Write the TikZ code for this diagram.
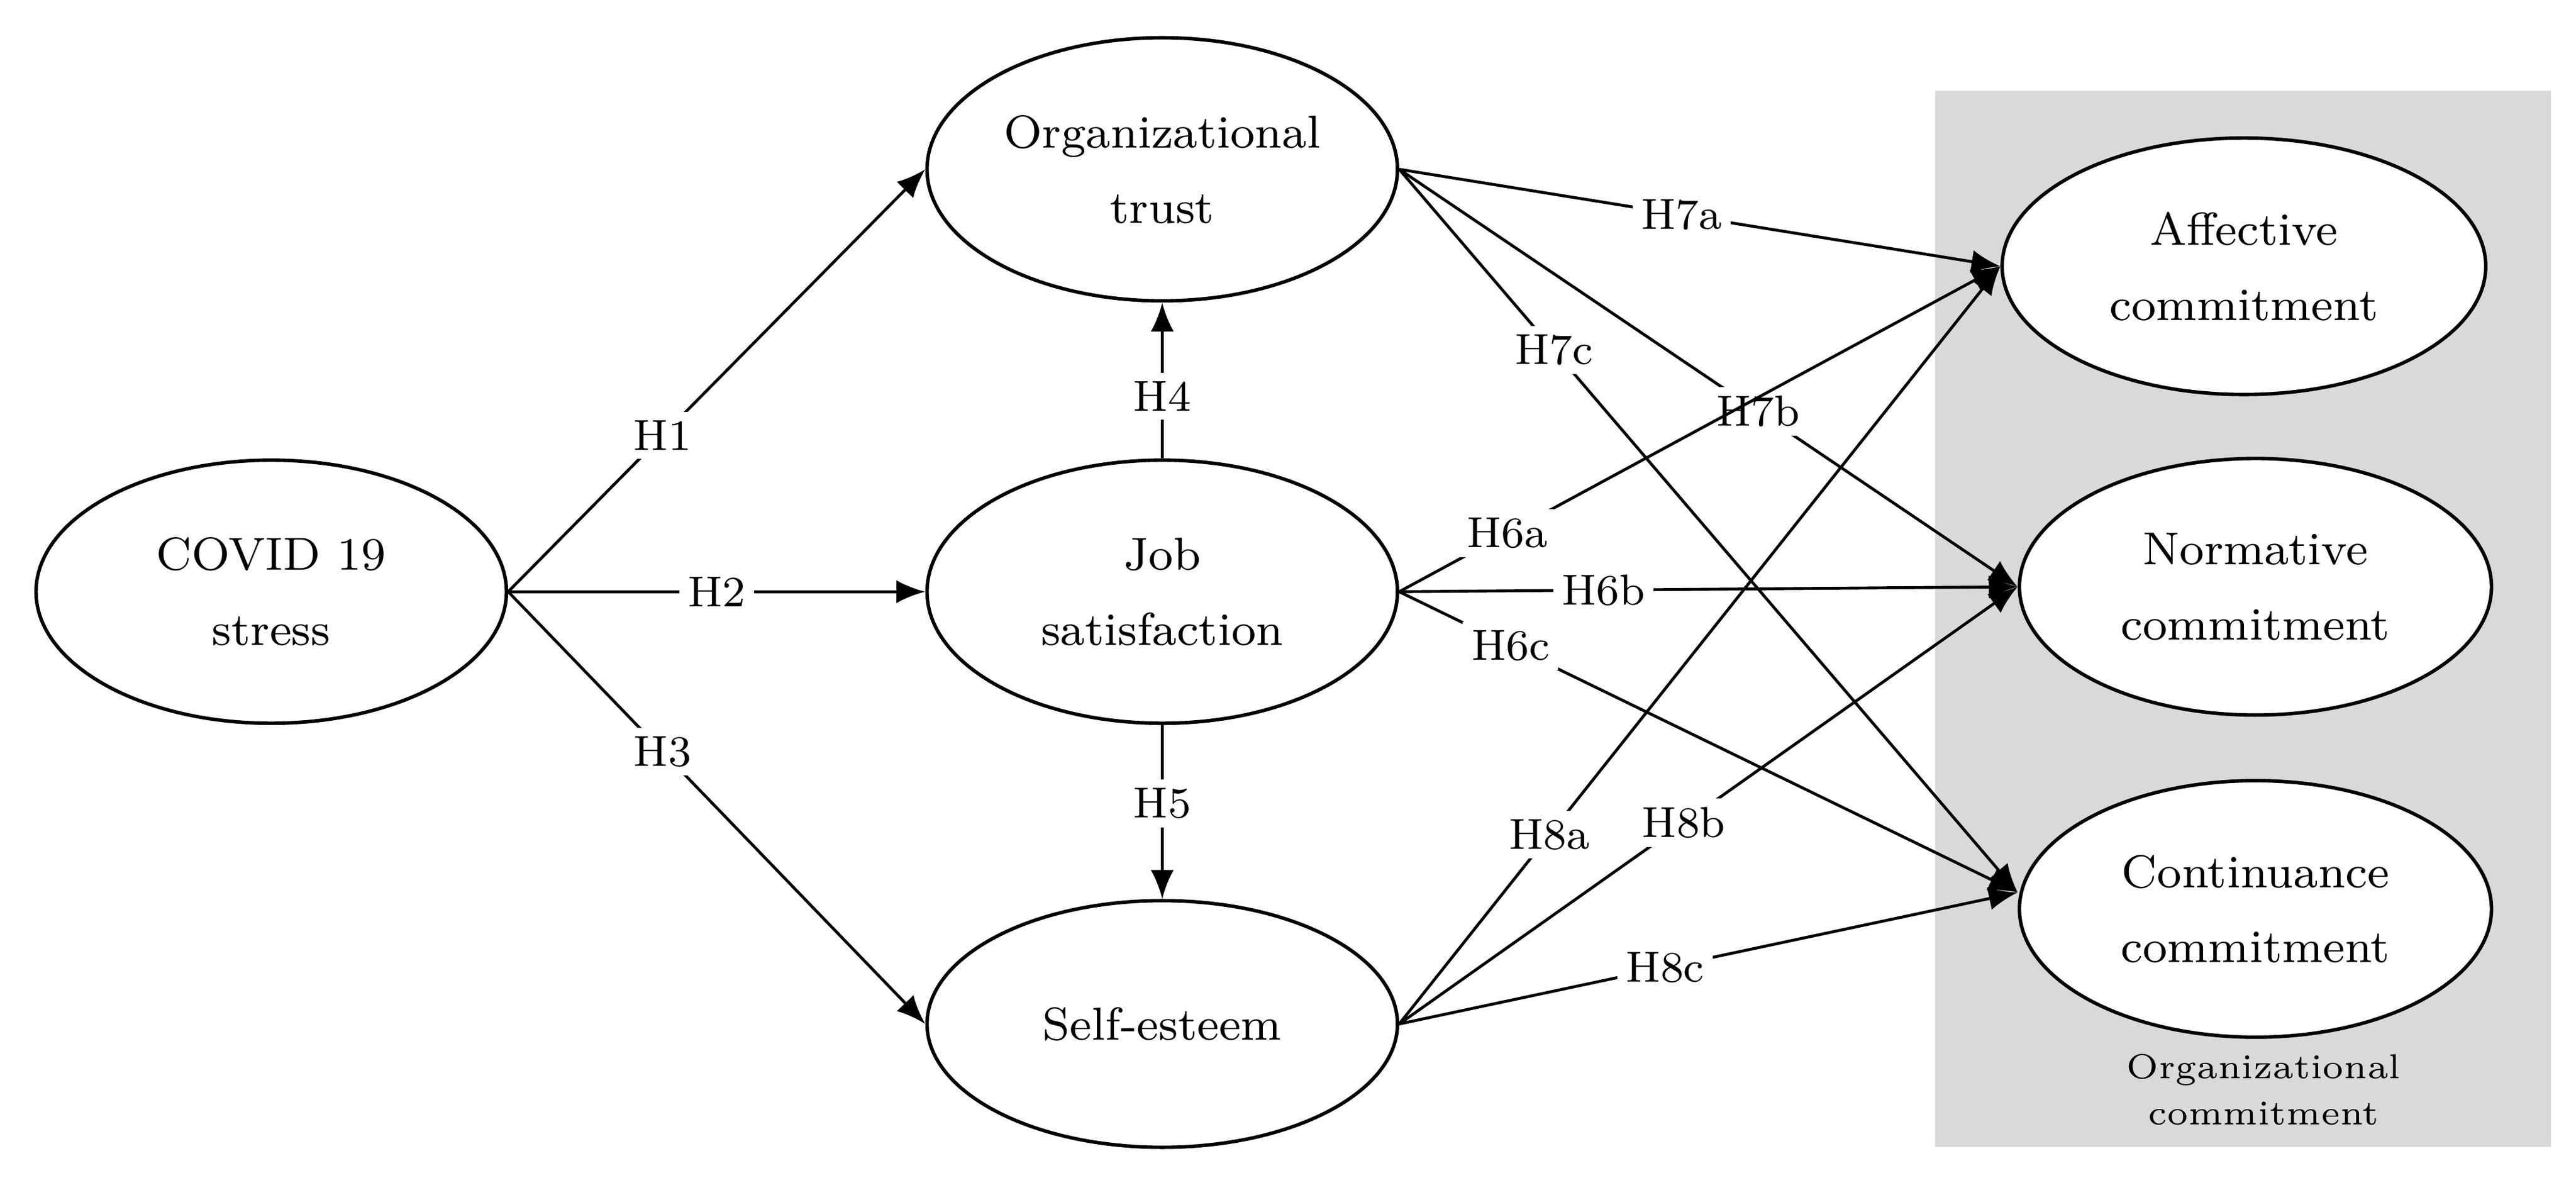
\documentclass[tikz,border=0pt]{standalone}
\usetikzlibrary{arrows.meta,shapes.geometric}
\begin{document}
\begin{tikzpicture}[x=0.01cm,y=-0.01cm,
  el/.style={draw,fill=white,ellipse,inner sep=0pt,minimum width=2.86cm,minimum height=1.6cm,align=center,font=\fontsize{8}{13}\selectfont,line width=0.6pt},
  ar/.style={-{Latex[length=5pt,width=4pt]},line width=0.5pt},
  lb/.style={fill=white,inner sep=1.5pt,font=\fontsize{7.5}{9}\selectfont}]
\useasboundingbox (0,0) rectangle (1567,727);
\fill[gray!30] (1177,55) rectangle (1552,698);
\node[el] (cov) at (165,360) {COVID 19\\stress};
\node[el] (ot) at (707,103) {Organizational\\trust};
\node[el] (js) at (707,360) {Job\\satisfaction};
\node[el,minimum height=1.5cm] (se) at (707,623) {Self-esteem};
\node[el,minimum width=2.94cm,minimum height=1.56cm] (ac) at (1365,162) {Affective\\commitment};
\node[el,minimum width=2.87cm,minimum height=1.56cm] (nc) at (1372,357) {Normative\\commitment};
\node[el,minimum width=2.87cm,minimum height=1.56cm] (cc) at (1372,553) {Continuance\\commitment};
\node[align=center,font=\fontsize{6}{8}\selectfont] (oc) at (1377,663) {Organizational\\commitment};
\coordinate (c) at (cov.east);
\draw[ar] (c) -- node[lb,pos=0.37]{H1} (ot.west);
\draw[ar] (c) -- node[lb,pos=0.5]{H2} (js.west);
\draw[ar] (c) -- node[lb,pos=0.37]{H3} (se.west);
\draw[ar] (js.north) -- node[lb,pos=0.4]{H4} (ot.south);
\draw[ar] (js.south) -- node[lb,pos=0.45]{H5} (se.north);
\coordinate (o) at (ot.east); \coordinate (j) at (js.east); \coordinate (s) at (se.east);
\coordinate (a) at (ac.west); \coordinate (n) at (nc.west); \coordinate (t) at ([yshift=1mm]cc.west);
\draw[ar] (o) -- node[lb,pos=0.47]{H7a} (a);
\draw[ar] (o) -- node[lb,pos=0.58]{H7b} (n);
\draw[ar] (o) -- node[lb,pos=0.25]{H7c} (t);
\draw[ar] (j) -- node[lb,pos=0.18]{H6a} (a);
\draw[ar] (j) -- node[lb,pos=0.33]{H6b} (n);
\draw[ar] (j) -- node[lb,pos=0.18]{H6c} (t);
\draw[ar] (s) -- node[lb,pos=0.25]{H8a} (a);
\draw[ar] (s) -- node[lb,pos=0.46]{H8b} (n);
\draw[ar] (s) -- node[lb,pos=0.43]{H8c} (t);
\end{tikzpicture}
\end{document}
